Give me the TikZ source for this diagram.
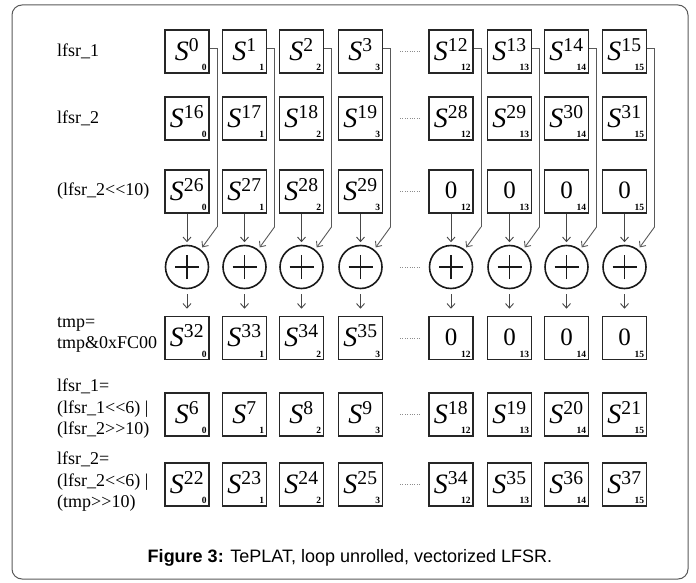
\documentclass[tikz,border=0pt]{standalone}
\usepackage{fontspec}
\setmainfont{Liberation Serif}
\newfontfamily\capfont{Liberation Sans}
\usetikzlibrary{arrows.meta}
\newcommand{\Sx}[1]{\textit{S}\textsuperscript{#1}}
\newcommand{\shl}{<\kern0pt<}
\newcommand{\shr}{>\kern0pt>}
\begin{document}
\begin{tikzpicture}[x=1pt,y=-1pt,
  cell/.style={draw=black!85, line width=1.6pt, minimum width=44pt, minimum height=43pt, inner sep=0pt},
  main/.style={font=\fontsize{28}{30}\selectfont, inner sep=0pt, anchor=center, yshift=2pt},
  zero/.style={font=\fontsize{25}{30}\selectfont, inner sep=0pt, anchor=center, yshift=1pt},
  subn/.style={font=\fontsize{9.5}{9.5}\selectfont\bfseries, inner sep=0pt, anchor=south east, xshift=-3pt, yshift=3pt},
  xorc/.style={circle, draw=black!90, line width=1.6pt, minimum size=43pt, inner sep=0pt,
    path picture={\draw[line width=1.6pt, black!90] (path picture bounding box.center) +(-12pt,0pt) -- +(12pt,0pt)
      (path picture bounding box.center) +(0pt,-12pt) -- +(0pt,12pt);}},
  arr/.style={draw=black!72, line width=0.9pt, -{Straight Barb[length=4.5pt,width=8pt]}},
  fb/.style={draw=black!65, line width=1pt},
  dots/.style={draw=black!45, line width=0.6pt, dash pattern=on 0.8pt off 1.6pt},
  lbl/.style={font=\fontsize{18}{21.5}\selectfont, anchor=west, align=left, inner sep=0pt},
  frame/.style={draw=black!65, line width=1pt, rounded corners=10pt}
]
\useasboundingbox (0,0) rectangle (696,583);
\draw[frame] (12,5) rectangle (688,579);

% labels
\node[lbl] (l1) at (57,51) {lfsr\_1};
\node[lbl] (l2) at (57,118) {lfsr\_2};
\node[lbl] (l3) at (57,191) {(lfsr\_2\shl10)};
\node[lbl] (l4) at (57,335) {tmp=\\tmp\&0xFC00};
\node[lbl] (l5) at (57,409) {lfsr\_1=\\(lfsr\_1\shl6) |\\(lfsr\_2\shr10)};
\node[lbl] (l6) at (57,482) {lfsr\_2=\\(lfsr\_2\shl6) |\\(tmp\shr10)};

\foreach \x/\k [count=\i from 0] in {187/0,244.5/1,301.5/2,360.5/3,451/12,509.5/13,566.5/14,624.5/15}{
  \pgfmathtruncatemacro{\a}{16+\k}
  \pgfmathtruncatemacro{\b}{26+\k}
  \pgfmathtruncatemacro{\c}{32+\k}
  \pgfmathtruncatemacro{\d}{6+\k}
  \pgfmathtruncatemacro{\e}{22+\k}
  % row 1
  \node[cell] (r1c\i) at (\x,51.5) {};
  \node[main] (t1c\i) at (r1c\i.center) {\Sx{\k}};
  \node[subn] (s1c\i) at (r1c\i.south east) {\k};
  % row 2
  \node[cell] (r2c\i) at (\x,118.5) {};
  \node[main] (t2c\i) at (r2c\i.center) {\Sx{\a}};
  \node[subn] (s2c\i) at (r2c\i.south east) {\k};
  % row 3
  \node[cell] (r3c\i) at (\x,191.5) {};
  \ifnum\i<4
    \node[main] (t3c\i) at (r3c\i.center) {\Sx{\b}};
  \else
    \node[zero] (t3c\i) at (r3c\i.center) {0};
  \fi
  \node[subn] (s3c\i) at (r3c\i.south east) {\k};
  % xor
  \node[xorc] (x\i) at (\x,267) {};
  % row 4
  \node[cell] (r4c\i) at (\x,338) {};
  \ifnum\i<4
    \node[main] (t4c\i) at (r4c\i.center) {\Sx{\c}};
  \else
    \node[zero] (t4c\i) at (r4c\i.center) {0};
  \fi
  \node[subn] (s4c\i) at (r4c\i.south east) {\k};
  % row 5
  \node[cell] (r5c\i) at (\x,414.5) {};
  \node[main] (t5c\i) at (r5c\i.center) {\Sx{\d}};
  \node[subn] (s5c\i) at (r5c\i.south east) {\k};
  % row 6
  \node[cell] (r6c\i) at (\x,484.5) {};
  \node[main] (t6c\i) at (r6c\i.center) {\Sx{\e}};
  \node[subn] (s6c\i) at (r6c\i.south east) {\k};
  % connectors
  \draw[arr, shorten >=2.5pt] (r3c\i.south) -- (x\i.north);
  \draw[arr, shorten <=5pt, shorten >=7pt] (x\i.south) -- (r4c\i.north);
  \coordinate (k\i) at (\x+30,227);
  \draw[fb] ([yshift=2.5pt]r1c\i.east) -| (k\i);
  \draw[arr, draw=black!65, shorten >=2.5pt] (k\i) -- (x\i.52);
}

% dotted separators
\foreach \y in {51.5,118.5,191.5,267,338,414.5,484.5}{
  \draw[dots] (400,\y) -- (421,\y);
}

\node[font=\capfont\fontsize{18}{20}\selectfont, inner sep=0pt] (cap) at (350,558) {\textbf{Figure 3:} TePLAT, loop unrolled, vectorized LFSR.};
\end{tikzpicture}
\end{document}
